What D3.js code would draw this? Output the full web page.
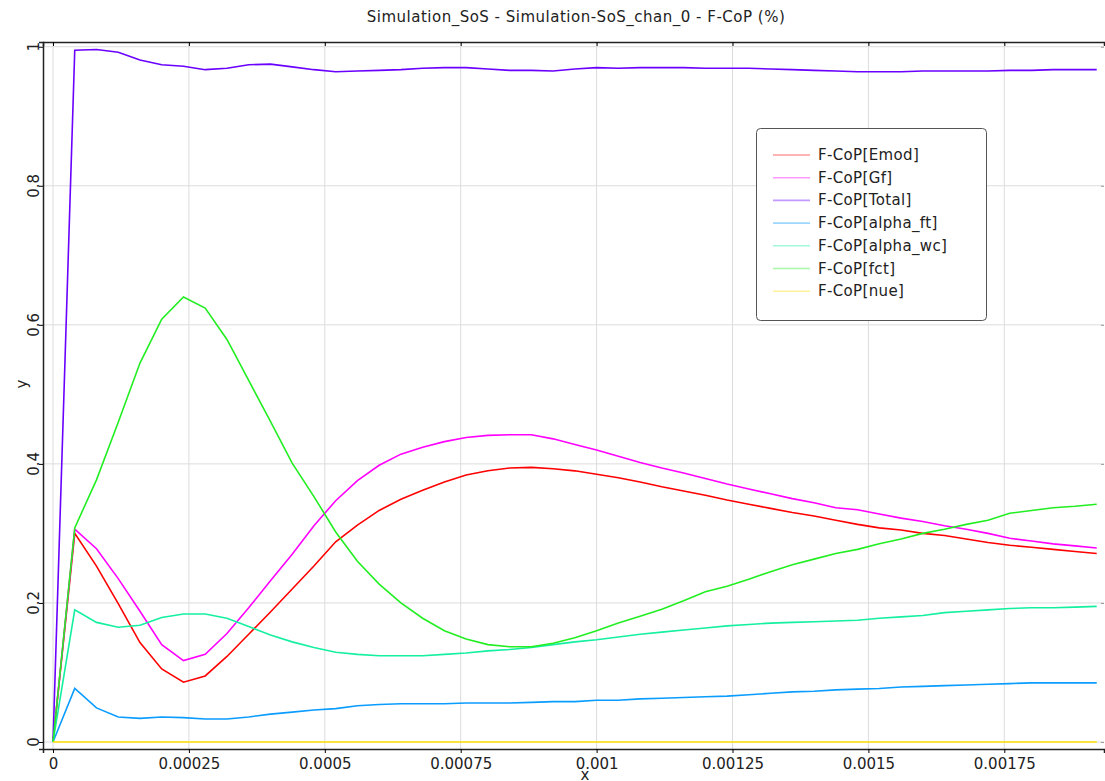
<!DOCTYPE html>
<html>
<head>
<meta charset="utf-8">
<script src="https://cdn.jsdelivr.net/npm/d3@7"></script>
<style>
  body { margin: 0; background: #fff; }
  text { font-family: "DejaVu Sans", sans-serif; fill: #222; }
</style>
</head>
<body>
<div class="chart"></div>
<script>
var xs = [0, 0.00004, 0.00008, 0.00012, 0.00016, 0.0002, 0.00024, 0.00028, 0.00032, 0.00036,
  0.0004, 0.00044, 0.00048, 0.00052, 0.00056, 0.0006, 0.00064, 0.00068, 0.00072, 0.00076,
  0.0008, 0.00084, 0.00088, 0.00092, 0.00096, 0.001, 0.00104, 0.00108, 0.00112, 0.00116,
  0.0012, 0.00124, 0.00128, 0.00132, 0.00136, 0.0014, 0.00144, 0.00148, 0.00152, 0.00156,
  0.0016, 0.00164, 0.00168, 0.00172, 0.00176, 0.0018, 0.00184, 0.00188, 0.00192];

var emod = [0, 0.300, 0.253, 0.199, 0.143, 0.105, 0.086, 0.095, 0.123, 0.155, 0.187, 0.220, 0.253,
  0.288, 0.312, 0.333, 0.349, 0.362, 0.374, 0.384, 0.390, 0.394, 0.395, 0.393, 0.390, 0.385, 0.380,
  0.374, 0.367, 0.361, 0.355, 0.348, 0.342, 0.336, 0.330, 0.325, 0.319, 0.313, 0.308, 0.305, 0.300,
  0.297, 0.292, 0.287, 0.283, 0.280, 0.277, 0.274, 0.271];
var gf = [0, 0.306, 0.278, 0.235, 0.188, 0.140, 0.117, 0.126, 0.156, 0.193, 0.232, 0.270, 0.311,
  0.347, 0.376, 0.398, 0.414, 0.424, 0.432, 0.438, 0.441, 0.442, 0.442, 0.436, 0.428, 0.420, 0.411,
  0.402, 0.394, 0.387, 0.379, 0.371, 0.364, 0.357, 0.350, 0.344, 0.337, 0.334, 0.328, 0.322, 0.317,
  0.311, 0.306, 0.300, 0.293, 0.289, 0.285, 0.282, 0.279];
var total = [0, 0.995, 0.996, 0.992, 0.981, 0.974, 0.972, 0.967, 0.969, 0.974, 0.975, 0.971, 0.967,
  0.964, 0.965, 0.966, 0.967, 0.969, 0.970, 0.970, 0.968, 0.966, 0.966, 0.965, 0.968, 0.970, 0.969,
  0.970, 0.970, 0.970, 0.969, 0.969, 0.969, 0.968, 0.967, 0.966, 0.965, 0.964, 0.964, 0.964, 0.965,
  0.965, 0.965, 0.965, 0.966, 0.966, 0.967, 0.967, 0.967];
var alphaFt = [0, 0.077, 0.049, 0.036, 0.034, 0.036, 0.035, 0.033, 0.033, 0.036, 0.040, 0.043, 0.046,
  0.048, 0.052, 0.054, 0.055, 0.055, 0.055, 0.056, 0.056, 0.056, 0.057, 0.058, 0.058, 0.060, 0.060,
  0.062, 0.063, 0.064, 0.065, 0.066, 0.068, 0.070, 0.072, 0.073, 0.075, 0.076, 0.077, 0.079, 0.080,
  0.081, 0.082, 0.083, 0.084, 0.085, 0.085, 0.085, 0.085];
var alphaWc = [0, 0.190, 0.172, 0.165, 0.168, 0.179, 0.184, 0.184, 0.178, 0.166, 0.154, 0.144, 0.136,
  0.129, 0.126, 0.124, 0.124, 0.124, 0.126, 0.128, 0.131, 0.133, 0.136, 0.140, 0.144, 0.147, 0.151,
  0.155, 0.158, 0.161, 0.164, 0.167, 0.169, 0.171, 0.172, 0.173, 0.174, 0.175, 0.178, 0.180, 0.182,
  0.186, 0.188, 0.190, 0.192, 0.193, 0.193, 0.194, 0.195];
var fct = [0, 0.308, 0.377, 0.460, 0.545, 0.608, 0.640, 0.624, 0.579, 0.520, 0.461, 0.401, 0.353,
  0.302, 0.260, 0.227, 0.200, 0.178, 0.160, 0.148, 0.140, 0.137, 0.137, 0.142, 0.150, 0.160, 0.171,
  0.181, 0.191, 0.203, 0.216, 0.224, 0.234, 0.245, 0.255, 0.263, 0.271, 0.277, 0.285, 0.292, 0.300,
  0.306, 0.313, 0.319, 0.329, 0.333, 0.337, 0.339, 0.342];
var nue = [0, 0, 0, 0, 0, 0, 0, 0, 0, 0, 0, 0, 0, 0, 0, 0, 0, 0, 0, 0, 0, 0, 0, 0, 0,
  0, 0, 0, 0, 0, 0, 0, 0, 0, 0, 0, 0, 0, 0, 0, 0, 0, 0, 0, 0, 0, 0, 0, 0];

var seriesNames = ["F-CoP[Emod]", "F-CoP[Gf]", "F-CoP[Total]", "F-CoP[alpha_ft]", "F-CoP[alpha_wc]", "F-CoP[fct]", "F-CoP[nue]"];
var seriesValues = [emod, gf, total, alphaFt, alphaWc, fct, nue];
var colors = ["#ff0000", "#ff00ff", "#6a00ff", "#0a9cff", "#14f0a0", "#22ee22", "#ffe000"];

var xTicks = [0, 0.00025, 0.0005, 0.00075, 0.001, 0.00125, 0.0015, 0.00175];
var xTickLabels = ["0", "0.00025", "0.0005", "0.00075", "0.001", "0.00125", "0.0015", "0.00175"];
var yTicks = [0, 0.2, 0.4, 0.6, 0.8, 1];
var yTickLabels = ["0", "0.2", "0.4", "0.6", "0.8", "1"];

var W = 1105, H = 781;
var pLeft = 43, pTop = 42, pRight = 1104, pBottom = 749;

var svg = d3.select(".chart")
    .append("svg")
    .attr("width", W)
    .attr("height", H)

var x = d3.scaleLinear().domain([-0.0000184, 0.0019334]).range([pLeft, pRight]);
var y = d3.scaleLinear().domain([-0.0101, 1.0068]).range([pBottom, pTop]);

// grid
svg.append("g").selectAll("line")
    .data(xTicks)
    .enter()
    .append("line")
    .attr("x1", d => x(d)).attr("x2", d => x(d))
    .attr("y1", pTop).attr("y2", pBottom)
    .attr("stroke", "#dcdcdc")

svg.append("g").selectAll("line")
    .data(yTicks)
    .enter()
    .append("line")
    .attr("x1", pLeft).attr("x2", pRight)
    .attr("y1", d => y(d)).attr("y2", d => y(d))
    .attr("stroke", "#dcdcdc")

// axes
var xAxis = svg.append("g")
    .attr("transform", "translate(0," + pBottom + ")")
    .call(d3.axisBottom(x).tickValues(xTicks).tickSize(4).tickPadding(5)
        .tickFormat((d, i) => xTickLabels[i]))
xAxis.select(".domain").attr("stroke", "#222").attr("stroke-width", 1.5)
xAxis.selectAll("text").style("font-size", "15px").attr("fill", "#222").attr("font-family", "DejaVu Sans")

svg.append("g")
    .attr("transform", "translate(0," + pTop + ")")
    .call(d3.axisTop(x).tickValues(xTicks).tickSize(-4).tickFormat(""))
    .call(g => g.select(".domain").attr("stroke", "#222").attr("stroke-width", 1.5))

var yAxis = svg.append("g")
    .attr("transform", "translate(" + pLeft + ",0)")
    .call(d3.axisLeft(y).tickValues(yTicks).tickSize(4).tickFormat(""))
yAxis.select(".domain").attr("stroke", "#222").attr("stroke-width", 1.5)

svg.append("g")
    .attr("transform", "translate(" + pRight + ",0)")
    .call(d3.axisRight(y).tickValues(yTicks).tickSize(-3).tickFormat(""))
    .call(g => g.select(".domain").remove())
    .call(g => g.selectAll("line").attr("stroke", "#999"))

svg.append("g").selectAll("text")
    .data(yTicks)
    .enter()
    .append("text")
    .attr("transform", d => "translate(39," + y(d) + ") rotate(-90)")
    .attr("text-anchor", "middle")
    .style("font-size", "15px")
    .text((d, i) => yTickLabels[i])

// lines
var line = d3.line()
    .x((d, i) => x(xs[i]))
    .y(d => y(d));

svg.append("g").selectAll("path")
    .data(seriesValues)
    .enter()
    .append("path")
    .attr("d", line)
    .attr("fill", "none")
    .attr("stroke", (d, i) => colors[i])
    .attr("stroke-width", 1.6)

// titles
svg.append("text")
    .attr("x", 576)
    .attr("y", 22)
    .attr("text-anchor", "middle")
    .style("font-size", "15px")
    .style("letter-spacing", "0.5px")
    .text("Simulation_SoS - Simulation-SoS_chan_0 - F-CoP (%)")

svg.append("text")
    .attr("x", 585)
    .attr("y", 780)
    .attr("text-anchor", "middle")
    .style("font-size", "15px")
    .text("x")

svg.append("text")
    .attr("transform", "translate(27,384) rotate(-90)")
    .attr("text-anchor", "middle")
    .style("font-size", "15px")
    .text("y")

// legend
var legend = svg.append("g")
legend.append("rect")
    .attr("x", 756.5).attr("y", 128.5)
    .attr("width", 230).attr("height", 192)
    .attr("rx", 4)
    .attr("fill", "#fff")
    .attr("stroke", "#555")

var rows = legend.selectAll("g")
    .data(seriesNames)
    .enter()
    .append("g")
    .attr("transform", (d, i) => "translate(0," + (155 + i * 22.7) + ")")

rows.append("line")
    .attr("x1", 773).attr("x2", 810)
    .attr("stroke", (d, i) => colors[i])
    .attr("stroke-opacity", 0.4)
    .attr("stroke-width", 1.6)

rows.append("text")
    .attr("x", 818)
    .attr("y", 5)
    .style("font-size", "15px")
    .style("letter-spacing", "0.35px")
    .text(d => d)
</script>
</body>
</html>
